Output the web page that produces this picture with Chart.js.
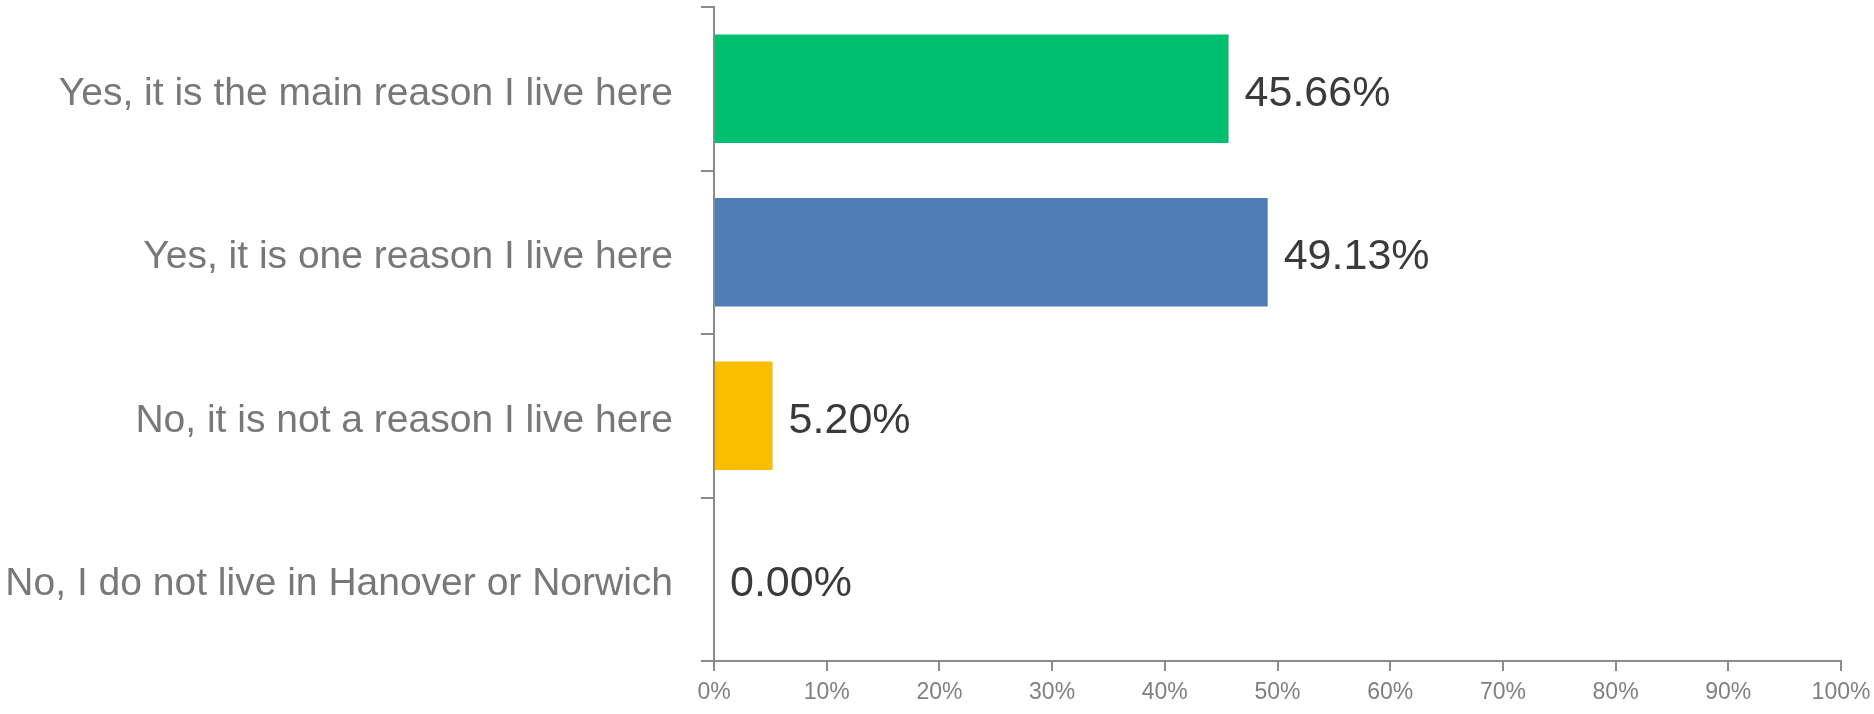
<!DOCTYPE html>
<html>
<head>
<meta charset="utf-8">
<script src="https://cdn.jsdelivr.net/npm/chart.js@4/dist/chart.umd.min.js"></script>
<style>
  html, body { margin: 0; padding: 0; background: #ffffff; }
  #wrap { width: 1874px; height: 714px; }
</style>
</head>
<body>
<div id="wrap"><canvas id="reasonChart"></canvas></div>
<script>
// ====================== DATA ======================
const categories = [
    "Yes, it is the main reason I live here",
    "Yes, it is one reason I live here",
    "No, it is not a reason I live here",
    "No, I do not live in Hanover or Norwich"
];
const percentValues = [45.66, 49.13, 5.20, 0.00];
const barColors = ["#00BF6F", "#4F7CB5", "#F9BE00", "#A9A9A9"];
const xTickValues = [0, 10, 20, 30, 40, 50, 60, 70, 80, 90, 100];

const axisColor = "#8a8a8a";
const labelFont = "'Liberation Sans', Arial, sans-serif";

// Draw value text just past the end of each bar
const valueLabels = {
    id: "valueLabels",
    afterDatasetsDraw(chart) {
        const ctx = chart.ctx;
        const meta = chart.getDatasetMeta(0);
        ctx.save();
        ctx.font = "43px " + labelFont;
        ctx.fillStyle = "#3a3a3a";
        ctx.textAlign = "left";
        ctx.textBaseline = "middle";
        meta.data.forEach((bar, i) => {
            ctx.fillText(percentValues[i].toFixed(2) + "%", bar.x + 16, bar.y + 5);
        });
        ctx.restore();
    }
};

// ====================== CHART ======================
const ctx = document.getElementById("reasonChart").getContext("2d");
new Chart(ctx, {
    type: "bar",
    data: {
        labels: categories,
        datasets: [{
            data: percentValues,
            backgroundColor: barColors,
            borderWidth: 0,
            categoryPercentage: 1,
            barPercentage: 0.665
        }]
    },
    options: {
        indexAxis: "y",
        responsive: true,
        maintainAspectRatio: false,
        animation: false,
        layout: { padding: { top: 7, right: 33, left: 0, bottom: 0 } },
        plugins: {
            legend: { display: false },
            tooltip: { enabled: false }
        },
        scales: {
            x: {
                min: 0,
                max: 100,
                afterBuildTicks(scale) {
                    scale.ticks = xTickValues.map(v => ({ value: v }));
                },
                afterFit(scale) {
                    scale.height = 53;
                    scale.paddingLeft = 0;
                    scale.paddingRight = 0;
                },
                grid: { drawOnChartArea: false, drawTicks: true, tickLength: 10, color: axisColor, lineWidth: 2 },
                border: { display: true, color: axisColor, width: 2 },
                ticks: {
                    padding: 8,
                    color: "#808080",
                    font: { family: labelFont, size: 23 },
                    callback: v => v + "%"
                }
            },
            y: {
                afterFit(scale) {
                    scale.width = 714;
                    scale.paddingTop = 0;
                    scale.paddingBottom = 0;
                },
                grid: { drawOnChartArea: false, drawTicks: true, tickLength: 13, offset: true, color: axisColor, lineWidth: 2 },
                border: { display: true, color: axisColor, width: 2 },
                ticks: {
                    padding: 28,
                    labelOffset: 5,
                    color: "#787878",
                    font: { family: labelFont, size: 39 }
                }
            }
        }
    },
    plugins: [valueLabels]
});
</script>
</body>
</html>
